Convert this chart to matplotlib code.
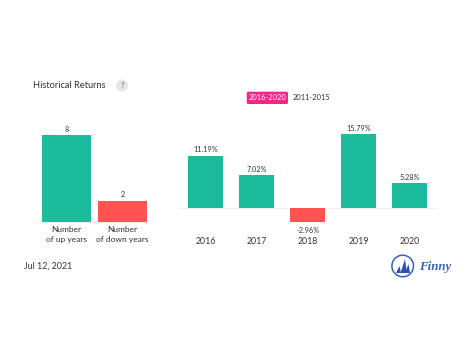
import matplotlib
matplotlib.use("Agg")
import matplotlib.pyplot as plt
from matplotlib.patches import Circle, FancyBboxPatch, Polygon

plt.rcParams["font.family"] = ["Lato", "DejaVu Sans"]

GREEN = "#1abc9c"
RED = "#ff5252"
TEXT = "#333333"

count_labels = ["Number\nof up years", "Number\nof down years"]
count_values = [8, 2]
years = ["2016", "2017", "2018", "2019", "2020"]
returns = [11.19, 7.02, -2.96, 15.79, 5.28]

W, H = 474, 355


def px_axes(fig, left, top, right, bottom):
    return fig.add_axes([left / W, 1 - bottom / H, (right - left) / W, (bottom - top) / H])


def clean(ax):
    for s in ["top", "left", "right"]:
        ax.spines[s].set_visible(False)
    ax.set_yticks([])
    ax.patch.set_alpha(0)


def main():
    fig = plt.figure(figsize=(W / 100, H / 100), dpi=100, facecolor="white")

    # overlay in pixel coords for title, toggle and logo
    bg = fig.add_axes([0, 0, 1, 1])
    bg.set_xlim(0, W)
    bg.set_ylim(H, 0)
    bg.axis("off")
    bg.text(33, 85.5, "Historical Returns", fontsize=6.7, color=TEXT, va="center")
    bg.add_patch(Circle((122, 85.5), 6, color="#e6e6e6", lw=0))
    bg.text(122, 85.5, "?", fontsize=5.6, color="#666666", ha="center", va="center")
    bg.add_patch(FancyBboxPatch((246.7, 91.7), 41.3, 12.3, boxstyle="round,pad=0,rounding_size=1.5",
                                fc="#f72585", ec="none"))
    bg.text(267.3, 97.7, "2016-2020", fontsize=5.4, color="white", ha="center", va="center")
    bg.text(311, 97.7, "2011-2015", fontsize=5.4, color=TEXT, ha="center", va="center")
    bg.text(24, 266.5, "Jul 12, 2021", fontsize=6.4, color=TEXT, va="center")

    # logo
    bg.add_patch(Circle((402.7, 266), 10.8, fc="none", ec="#3f5fc0", lw=1.1))
    bg.add_patch(Polygon([(396, 273), (399.5, 266), (401, 273)], color="#2f4fb5", lw=0))
    bg.add_patch(Polygon([(400.5, 273), (405, 259), (407, 273)], color="#2f4fb5", lw=0))
    bg.add_patch(Polygon([(405, 273), (408.5, 264), (410, 273)], color="#2f4fb5", lw=0))
    bg.text(419, 267, "Finny", fontsize=9.3, color="#3f5fc0", va="center",
            family="Liberation Serif", style="italic", weight="bold")

    # left: up and down year counts
    ax1 = px_axes(fig, 35, 115, 150, 222.3)
    clean(ax1)
    x1 = range(len(count_values))
    ax1.bar(x1, count_values, width=0.88,
            color=[GREEN if v > 4 else RED for v in count_values])
    ax1.set_xlim(-0.56, 1.49)
    ax1.set_ylim(0, 107.3 / 10.875)
    for i, v in zip(x1, count_values):
        ax1.annotate(str(v), (i, v), xytext=(0, 1.8), textcoords="offset points",
                     ha="center", va="bottom", fontsize=5.2, color=TEXT)
    ax1.spines["bottom"].set_color("#eeeeee")
    ax1.spines["bottom"].set_linewidth(0.7)
    ax1.set_xticks(list(x1), count_labels, fontsize=6, color=TEXT, linespacing=1.45)
    ax1.tick_params(axis="x", length=0, pad=3)

    # right: yearly returns
    ax2 = px_axes(fig, 179, 115, 436.7, 240)
    clean(ax2)
    ax2.spines["bottom"].set_visible(False)
    x2 = range(len(returns))
    ax2.bar(x2, returns, width=0.686, color=[GREEN if v >= 0 else RED for v in returns])
    ax2.axhline(0, color="#eeeeee", lw=0.7, zorder=0)
    ax2.set_xlim(-0.525, 4.527)
    ax2.set_ylim(-31.7 / 4.7, 93.3 / 4.7)
    for i, v in zip(x2, returns):
        off = 1.8 if v >= 0 else -3.5
        ax2.annotate(f"{v:.2f}%", (i, v), xytext=(0, off), textcoords="offset points",
                     ha="center", va="bottom" if v >= 0 else "top", fontsize=5.2, color=TEXT)
    ax2.set_xticks(list(x2), years, fontsize=6.3, color=TEXT)
    ax2.tick_params(axis="x", length=0, pad=-2.3)

    fig.savefig("out.png", dpi=100)


if __name__ == "__main__":
    main()
